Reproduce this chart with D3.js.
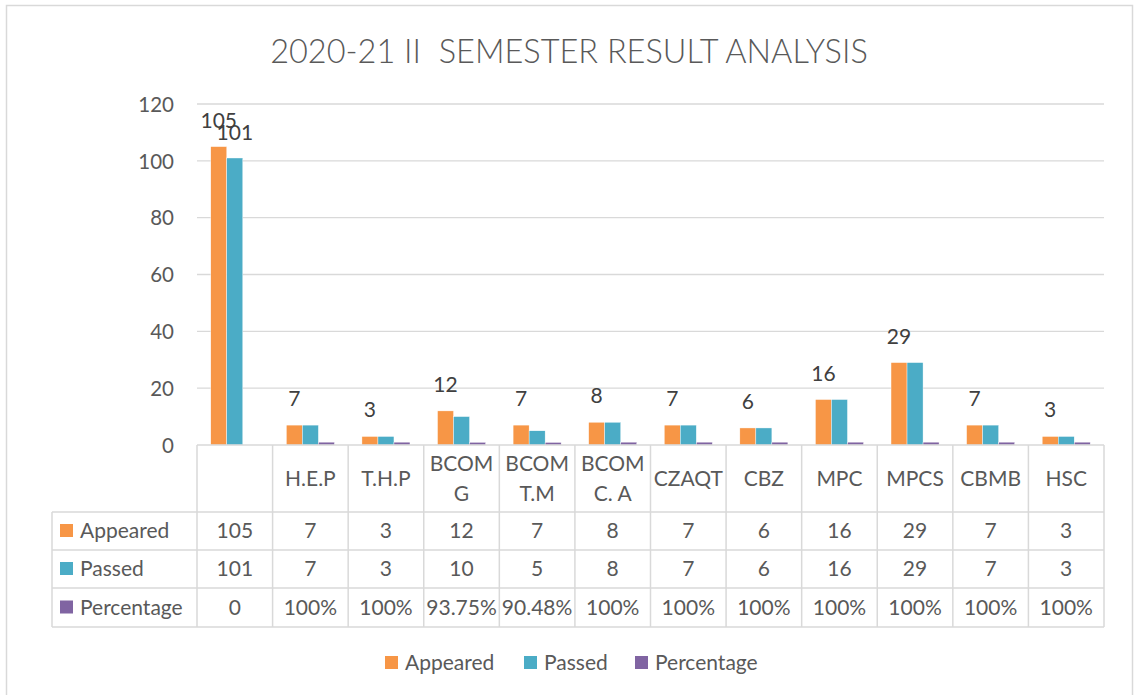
<!DOCTYPE html>
<html><head><meta charset="utf-8">
<script src="https://cdn.jsdelivr.net/npm/d3@7"></script>
<style>body{margin:0;background:#fff;} svg{display:block;}</style>
</head><body>
<svg id="chart" width="1138" height="695"></svg>
<script>
const title = "2020-21 II  SEMESTER RESULT ANALYSIS";
const categories = ["", "H.E.P", "T.H.P", "BCOM\nG", "BCOM\nT.M", "BCOM\nC. A", "CZAQT", "CBZ", "MPC", "MPCS", "CBMB", "HSC"];
const appeared = [105, 7, 3, 12, 7, 8, 7, 6, 16, 29, 7, 3];
const passed = [101, 7, 3, 10, 5, 8, 7, 6, 16, 29, 7, 3];
const percentage = [0, 1, 1, 0.9375, 0.9048, 1, 1, 1, 1, 1, 1, 1];
const percentageText = ["0", "100%", "100%", "93.75%", "90.48%", "100%", "100%", "100%", "100%", "100%", "100%", "100%"];
const seriesNames = ["Appeared", "Passed", "Percentage"];
const seriesColors = ["#F79646", "#4BACC6", "#8064A2"];
const yTicks = [0, 20, 40, 60, 80, 100, 120];

const font = "Lato, 'Open Sans', sans-serif";
const textColor = "#595959";
const gridColor = "#D9D9D9";
const fs = 21;
const svg = d3.select("#chart");

// outer border
svg.append("rect").attr("x", 6.5).attr("y", 5.5).attr("width", 1126).attr("height", 700)
  .attr("fill", "#fff").attr("stroke", gridColor).attr("stroke-width", 1.5);

// title
svg.append("text").attr("x", 569).attr("y", 63).attr("text-anchor", "middle")
  .attr("xml:space", "preserve").style("white-space", "pre")
  .attr("font-family", font).attr("font-weight", 300).attr("font-size", 32.5)
  .attr("fill", textColor).text(title);

const left = 197, right = 1104, y0 = 445, yTop = 104;
const x = d3.scaleBand().domain(d3.range(categories.length)).range([left, right]).paddingInner(0).paddingOuter(0);
const xs = d3.scaleBand().domain(seriesNames).range([0, x.bandwidth()]).paddingInner(0).paddingOuter(0.86);
const y = d3.scaleLinear().domain([0, 120]).range([y0, yTop]);

// gridlines
svg.append("g").selectAll("line").data(yTicks.filter(t => t > 0)).join("line")
  .attr("x1", left).attr("x2", right).attr("y1", d => y(d)).attr("y2", d => y(d))
  .attr("stroke", gridColor).attr("stroke-width", 1.3);

// y axis labels
const yAxis = d3.axisLeft(y).tickValues(yTicks).tickSize(0).tickPadding(0);
const ga = svg.append("g").attr("transform", `translate(174,0)`).call(yAxis);
ga.select(".domain").remove();
ga.selectAll("text").attr("font-family", font).attr("font-size", 20.5).attr("fill", textColor).attr("dy", "0.35em");

// bars
const seriesData = [appeared, passed, percentage];
seriesData.forEach((vals, si) => {
  svg.append("g").selectAll("rect").data(vals).join("rect")
    .attr("x", (d, i) => x(i) + xs(seriesNames[si]))
    .attr("width", xs.bandwidth())
    .attr("y", d => y(d))
    .attr("height", d => y0 - y(d))
    .attr("fill", seriesColors[si])
    .attr("stroke", "#fff").attr("stroke-width", 0.4);
});

// data labels: appeared on all, passed on first category
const lab = svg.append("g").attr("font-family", font).attr("font-size", fs).attr("fill", "#404040").attr("text-anchor", "middle");
lab.selectAll("text.a").data(appeared).join("text").attr("class", "a")
  .attr("x", (d, i) => x(i) + xs("Appeared") + xs.bandwidth() / 2)
  .attr("y", d => y(d) - 19).text(d => d);
lab.append("text").attr("x", x(0) + xs("Passed") + xs.bandwidth() / 2)
  .attr("y", y(passed[0]) - 18).text(passed[0]);

// data table
const rowY = [y0, 512, 550, 588, 627];
const tableLeft = 52;
const tg = svg.append("g").attr("stroke", gridColor).attr("stroke-width", 1.5);
tg.append("line").attr("x1", left).attr("x2", right).attr("y1", rowY[0]).attr("y2", rowY[0]);
rowY.slice(1).forEach(ry => tg.append("line").attr("x1", tableLeft).attr("x2", right).attr("y1", ry).attr("y2", ry));
d3.range(categories.length + 1).forEach(i => {
  const xx = i < categories.length ? x(i) : right;
  tg.append("line").attr("x1", xx).attr("x2", xx).attr("y1", rowY[0]).attr("y2", rowY[4]);
});
tg.append("line").attr("x1", tableLeft).attr("x2", tableLeft).attr("y1", rowY[1]).attr("y2", rowY[4]);

const tt = svg.append("g").attr("font-family", font).attr("font-size", fs).attr("fill", textColor).attr("text-anchor", "middle");
categories.forEach((c, i) => {
  const lines = c.split("\n");
  const cx = x(i) + x.bandwidth() / 2;
  const cy = (rowY[0] + rowY[1]) / 2;
  lines.forEach((ln, k) => {
    tt.append("text").attr("x", cx).attr("y", cy + (k - (lines.length - 1) / 2) * 30).attr("dy", "0.35em").text(ln);
  });
});
const rowsText = [appeared.map(String), passed.map(String), percentageText];
rowsText.forEach((vals, r) => {
  const cy = (rowY[r + 1] + rowY[r + 2]) / 2;
  vals.forEach((v, i) => {
    tt.append("text").attr("x", x(i) + x.bandwidth() / 2).attr("y", cy).attr("dy", "0.35em").text(v);
  });
  svg.append("rect").attr("x", 60).attr("y", cy - 7).attr("width", 13).attr("height", 13).attr("fill", seriesColors[r]);
  svg.append("text").attr("x", 80).attr("y", cy).attr("dy", "0.35em").attr("font-family", font).attr("font-size", fs)
    .attr("fill", textColor).text(seriesNames[r]);
});

// bottom legend
const legX = [385, 524, 635];
const lg = svg.append("g");
seriesNames.forEach((n, i) => {
  lg.append("rect").attr("x", legX[i]).attr("y", 656).attr("width", 13).attr("height", 13).attr("fill", seriesColors[i]);
  lg.append("text").attr("x", legX[i] + 20).attr("y", 662.5).attr("dy", "0.35em")
    .attr("font-family", font).attr("font-size", fs).attr("fill", textColor).text(n);
});
</script>
</body></html>
